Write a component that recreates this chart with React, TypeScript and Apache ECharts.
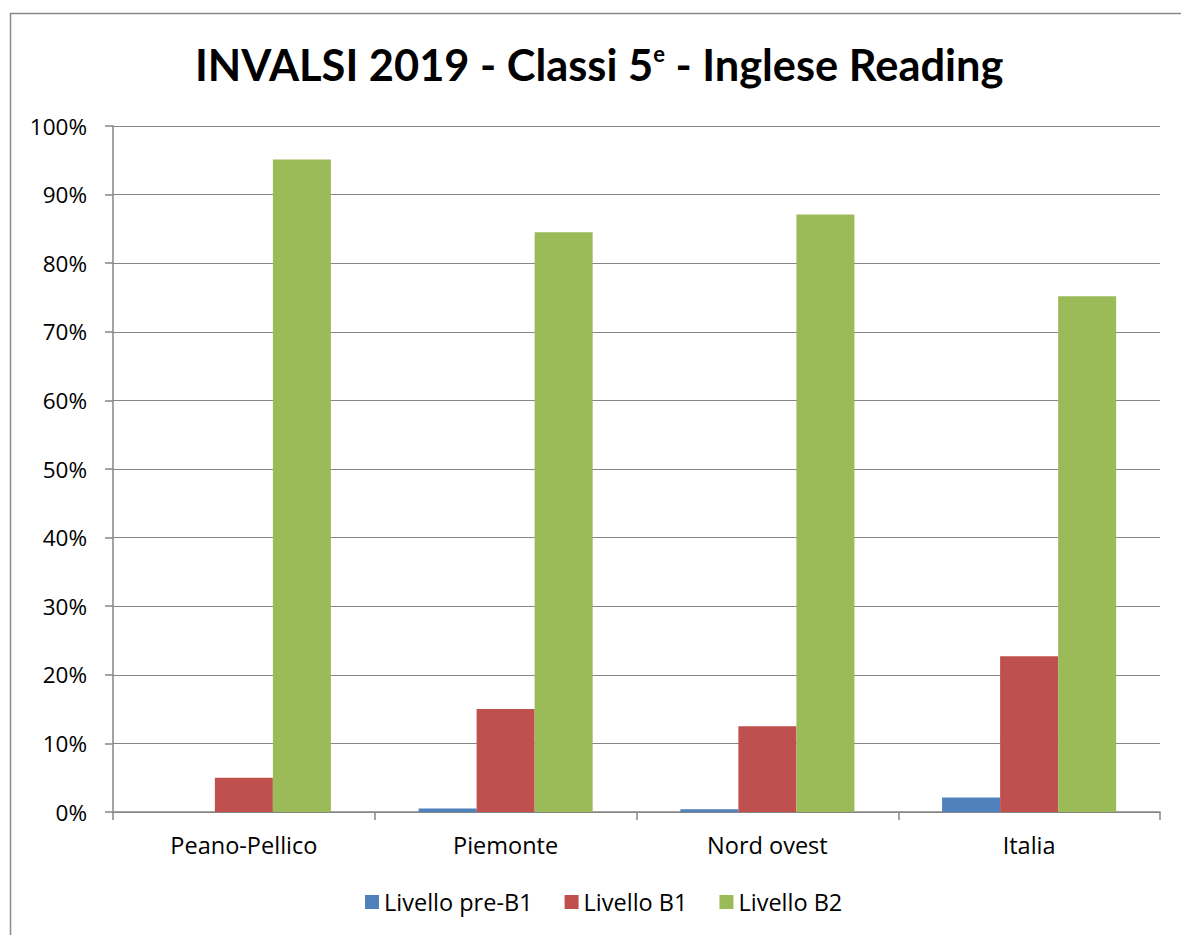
import React, { useEffect, useRef } from "react";
import * as echarts from "echarts";

const categories = ["Peano-Pellico", "Piemonte", "Nord ovest", "Italia"];
const seriesNames = ["Livello pre-B1", "Livello B1", "Livello B2"];
const preB1 = [0, 0.5, 0.4, 2.1];
const b1 = [5.0, 15.0, 12.5, 22.7];
const b2 = [95.1, 84.5, 87.1, 75.2];
const colors = ["#4F81BD", "#C0504D", "#9BBB59"];
const FONT = "Open Sans";
const TFONT = "Lato";

export default function App() {
  const ref = useRef<HTMLDivElement>(null);
  useEffect(() => {
    const chart = echarts.init(ref.current!, null, { renderer: "svg" });
    const values = [preB1, b1, b2];
    chart.setOption({
      animation: false,
      backgroundColor: "#fff",
      textStyle: { fontFamily: FONT },
      title: {
        text: "{t|INVALSI 2019 - Classi 5}{s|e}{t| - Inglese Reading}",
        left: 195,
        top: 42,
        padding: 0,
        textStyle: {
          rich: {
            t: { fontFamily: TFONT, fontWeight: "bold", fontSize: 43.4, color: "#000", verticalAlign: "bottom" },
            s: { fontFamily: TFONT, fontWeight: "bold", fontSize: 22, color: "#000", verticalAlign: "top", padding: [0, 0, 20, 0] },
          },
        },
      },
      graphic: [
        {
          type: "rect",
          shape: { x: 10.5, y: 13.5, width: 1200, height: 960 },
          style: { fill: "none", stroke: "#888", lineWidth: 1.5 },
          silent: true,
        },
      ],
      legend: {
        bottom: 21,
        left: 365,
        padding: 0,
        itemWidth: 14,
        itemHeight: 14,
        itemGap: 32,
        icon: "rect",
        textStyle: { fontFamily: FONT, fontSize: 23.5, color: "#000" },
        data: seriesNames,
      },
      grid: { left: 113, right: 21, top: 126, bottom: 123, containLabel: false },
      xAxis: {
        type: "category",
        data: categories,
        axisLine: { lineStyle: { color: "#868686", width: 1.5 } },
        axisTick: { show: true, length: 8, alignWithLabel: false, lineStyle: { color: "#868686", width: 1.5 } },
        axisLabel: { fontFamily: FONT, fontSize: 23.5, color: "#000", margin: 21 },
      },
      yAxis: {
        type: "value",
        min: 0,
        max: 100,
        interval: 10,
        axisLine: { show: true, lineStyle: { color: "#868686", width: 1.5 } },
        axisTick: { show: true, length: 8, inside: false, lineStyle: { color: "#868686", width: 1.5 } },
        splitLine: { lineStyle: { color: "#868686", width: 1.2 } },
        axisLabel: { fontFamily: FONT, fontSize: 22.5, color: "#000", margin: 26, formatter: "{value}%" },
      },
      series: seriesNames.map((name, i) => ({
        name,
        type: "bar",
        data: values[i],
        barGap: "0%",
        barCategoryGap: "33.5%",
        itemStyle: { color: colors[i] },
      })),
    });
    return () => chart.dispose();
  }, []);
  return <div ref={ref} style={{ width: 1181, height: 935, position: "absolute", left: 0, top: 0 }} />;
}
